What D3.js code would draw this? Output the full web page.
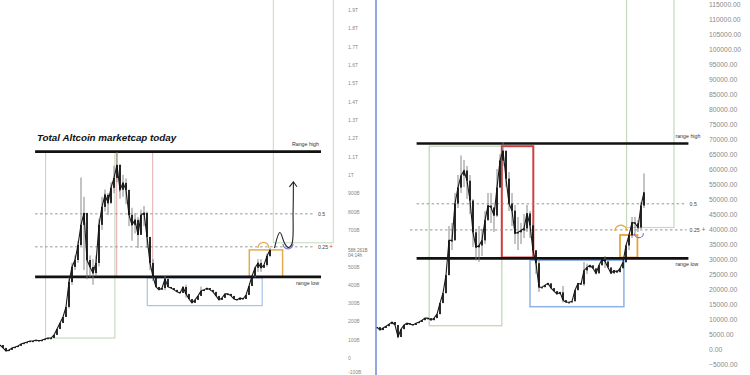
<!DOCTYPE html>
<html>
<head>
<meta charset="utf-8">
<script src="https://cdn.jsdelivr.net/npm/d3@7"></script>
<style>
  body { margin: 0; background: #fff; }
  svg { display: block; font-family: "Liberation Sans", Arial, sans-serif; }
</style>
</head>
<body>
<svg id="chart" width="750" height="375"></svg>
<script>
// ---- left panel: total altcoin market cap (billions) ----
var leftClose = [71,55,38,44,55,60,66,77,82,87,93,93,98,93,98,104,109,109,126,158,
  191,224,279,415,497,535,617,727,792,535,497,464,519,727,825,891,847,929,983,1054,
  918,956,918,781,727,754,672,781,792,661,519,443,388,372,382,432,388,382,372,361,
  355,388,350,322,301,317,339,366,372,382,372,361,339,317,328,350,350,339,322,317,
  328,322,344,393,448,492,519,492,508,557,590];
// [bar, high, low]
var leftWicks = [[23,440,270],[24,520,400],[25,560,480],[26,640,520],[27,985,610],[28,880,480],
  [29,600,430],[30,560,440],[31,540,400],[32,560,450],[33,760,500],[34,880,700],[35,920,800],
  [36,900,780],[37,960,840],[38,1050,900],[39,1125,960],[40,1060,870],[41,1000,880],[42,980,840],
  [43,900,720],[44,820,640],[45,790,680],[46,770,600],[47,810,680],[48,830,720],[49,800,600],
  [50,660,480],[51,540,420],[55,450,370],[62,400,330],[67,390,340],[85,500,440],[86,540,470],
  [87,540,470],[89,570,500],[90,600,550]];
var leftTicks = d3.range(-100, 2000, 100);
var leftRange = [443, 1127];
var leftFibs = [{label: "0.5", v: 787}, {label: "0.25", v: 607}];
var leftBoxes = [
  {i0: 15.2, i1: 38.3, v0: 1127, v1: 109, c: "#bcd5b3", w: 1},
  {i0: 38.9, i1: 50.9, v0: 1127, v1: 443, c: "#e8aaaa", w: 1},
  {i0: 49.1, i1: 87.4, v0: 437, v1: 286, c: "#a9c2e8", w: 1.2},
  {i0: 83.1, i1: 94.2, v0: 590, v1: 443, c: "#e3ad4c", w: 1.5},
  {i0: 91.1, i1: 111.1, v0: 2100, v1: 629, c: "#c4dabc", w: 1}
];
var leftArrow = [[91.5,600],[93.3,685],[95,622],[96.2,603],[97.3,622],[97.7,800],[97.8,962]];

// ---- right panel: BTC (USD) ----
var rightClose = [7300,6300,7000,7600,8300,9000,8000,4000,6600,8000,
  8600,8300,8000,8600,9000,9600,10300,10300,9600,10300,
  11600,15300,18600,24600,36200,36200,48500,53800,57800,59500,
  56100,49500,38900,33900,34500,36200,42900,47800,47200,44500,
  53800,62800,66100,56800,48500,46100,38500,38900,39500,40200,
  45200,41200,32900,28600,20600,20600,21300,21900,20300,19300,
  18300,18900,16300,15600,15600,15900,19600,21900,21600,26200,
  27200,27900,26900,25200,27900,29900,29200,27200,25200,26200,
  25600,26900,28900,34500,37900,42200,41900,40500,47800,52200];
var rightWicks = [[24,41000,30000],[25,42000,33000],[26,52000,40000],[27,58000,47000],[28,64500,52000],
  [29,63000,54000],[30,61000,50000],[31,58000,45000],[32,50000,34000],[33,40000,29500],[34,41000,29000],
  [35,40000,31000],[36,46000,35000],[37,52000,44000],[38,52000,42000],[39,47000,39000],[40,60000,44000],
  [41,65000,55000],[42,69000,61000],[43,66000,54000],[44,59000,46000],[45,52000,41000],[46,48000,35000],
  [47,44000,33000],[48,42000,35000],[49,45000,37000],[50,48000,39000],[51,46000,37000],[52,42000,32000],
  [53,33000,25000],[54,30000,19000],[62,21000,15500],[69,29000,21000],[70,28500,25000],[76,31000,27000],
  [84,38500,33000],[85,44000,37000],[86,44000,38500],[87,43000,39000],[88,49000,40000],[89,58500,47000]];
var rightTicks = d3.range(-5000, 120000, 5000);
var rightRange = [30200, 68500];
var rightFibs = [{label: "0.5", v: 48400}, {label: "0.25", v: 39700}];
var rightBoxes = [
  {i0: 17.4, i1: 41.6, v0: 67600, v1: 7760, c: "#bcd5b3", w: 1.2},
  {i0: 41.6, i1: 52.1, v0: 67600, v1: 30500, c: "#cf3f3f", w: 2},
  {i0: 51, i1: 82.3, v0: 29600, v1: 14100, c: "#8fb1e6", w: 1.5},
  {i0: 81, i1: 86.8, v0: 38000, v1: 30500, c: "#e6a43a", w: 1.8},
  {i0: 83.2, i1: 99, v0: 130000, v1: 40500, c: "#c4dabc", w: 1.2}
];

var svg = d3.select("#chart");

function panel(cfg) {
  var g = svg.append("g");
  var x = cfg.x, y = cfg.y;

  // boxes
  g.selectAll("rect.box").data(cfg.boxes).enter().append("rect")
    .attr("x", d => x(d.i0))
    .attr("y", d => y(d.v0))
    .attr("width", d => x(d.i1) - x(d.i0))
    .attr("height", d => y(d.v1) - y(d.v0))
    .attr("fill", "none")
    .attr("stroke", d => d.c)
    .attr("stroke-width", d => d.w);

  // fib dashed levels
  g.selectAll("line.fib").data(cfg.fibs).enter().append("line")
    .attr("x1", (d, k) => x(cfg.fibStart[k]))
    .attr("x2", x(cfg.fibEnd))
    .attr("y1", d => y(d.v)).attr("y2", d => y(d.v))
    .attr("stroke", "#8a8a8a")
    .attr("stroke-width", 0.9)
    .attr("stroke-dasharray", "2.5,2.5");
  g.selectAll("text.fib").data(cfg.fibs).enter().append("text")
    .attr("x", x(cfg.fibEnd) + 3)
    .attr("y", d => y(d.v) + 2)
    .attr("font-size", 5.2)
    .attr("fill", "#444")
    .text(d => d.label);
  g.append("text")
    .attr("x", x(cfg.fibEnd) + cfg.plusDx)
    .attr("y", y(cfg.fibs[1].v) + 2.5)
    .attr("font-size", 7)
    .attr("fill", "#e05050")
    .text("+");

  // range lines
  g.selectAll("line.range").data(cfg.range).enter().append("line")
    .attr("x1", x(cfg.lineStart)).attr("x2", x(cfg.lineEnd))
    .attr("y1", d => y(d)).attr("y2", d => y(d))
    .attr("stroke", "#111")
    .attr("stroke-width", 2.6);
  g.append("text")
    .attr("class", "rlabel")
    .attr("x", x(cfg.lineEnd) - 2).attr("y", y(cfg.range[1]) - 6)
    .attr("text-anchor", "end").attr("font-size", 5.3).attr("fill", "#333")
    .text(cfg.highLabel);
  g.append("text")
    .attr("class", "rlabel")
    .attr("x", x(cfg.lineEnd) - 2).attr("y", y(cfg.range[0]) + 8)
    .attr("text-anchor", "end").attr("font-size", 5.3).attr("fill", "#333")
    .text(cfg.lowLabel);

  // wicks
  g.selectAll("line.wick").data(cfg.wicks).enter().append("line")
    .attr("x1", d => x(d[0])).attr("x2", d => x(d[0]))
    .attr("y1", d => y(d[1])).attr("y2", d => y(d[2]))
    .attr("stroke", "#7c7c7c")
    .attr("stroke-width", 0.9);

  // price path through the closes
  g.append("path")
    .attr("d", d3.line().x((d, i) => x(i)).y(d => y(d))(cfg.close))
    .attr("fill", "none")
    .attr("stroke", "#1a1a1a")
    .attr("stroke-width", 1.1);

  // candle bodies (open = previous close)
  g.selectAll("rect.candle").data(cfg.close).enter().append("rect")
    .attr("x", (d, i) => x(i) - 0.9)
    .attr("width", 1.8)
    .attr("y", (d, i) => y(Math.max(d, i ? cfg.close[i - 1] : d)))
    .attr("height", (d, i) => Math.max(1.2, Math.abs(y(d) - y(i ? cfg.close[i - 1] : d))))
    .attr("fill", "#151515");

  // axis
  var axis = d3.axisRight(y)
    .tickValues(cfg.ticks)
    .tickSize(0)
    .tickPadding(0)
    .tickFormat(cfg.fmt);
  var ag = g.append("g")
    .attr("transform", "translate(" + cfg.axisX + ",0)")
    .call(axis);
  ag.select(".domain").remove();
  ag.selectAll("text")
    .attr("font-size", cfg.axisFont)
    .attr("font-family", "Liberation Sans, Arial, sans-serif")
    .attr("fill", "#8a8a8a");
  ag.selectAll(".tick").filter(d => y(d) > 372)
    .attr("transform", "translate(0,372)");
  return g;
}

// left panel
var xL = d3.scaleLinear().domain([0, 90]).range([0, 270]);
var yL = d3.scaleLinear().domain([0, 1900]).range([358, 10]);
var gL = panel({
  x: xL, y: yL, close: leftClose, wicks: leftWicks, boxes: leftBoxes,
  fibs: leftFibs, fibStart: [11.7, 11.7], fibEnd: 105, range: leftRange,
  lineStart: 11.7, lineEnd: 107, highLabel: "Range high", lowLabel: "range low",
  ticks: leftTicks.filter(t => t !== 600), axisX: 348, axisFont: 5,
  fmt: d => d === 0 ? "0" : (Math.abs(d) >= 1000 ? (d / 1000) + "T" : d + "B"),
  plusDx: 14
});
// current price tag
gL.append("text").attr("x", 348).attr("y", yL(588) + 2)
  .attr("font-size", 4.6).attr("fill", "#777").text("588.261B");
gL.append("text").attr("x", 348).attr("y", yL(588) + 6.5)
  .attr("font-size", 4.6).attr("fill", "#777").text("04:14h");

gL.append("text")
  .attr("x", 37).attr("y", 141)
  .attr("font-size", 9.8)
  .attr("font-weight", "bold")
  .attr("font-style", "italic")
  .attr("fill", "#111")
  .text("Total Altcoin marketcap today");

// hand drawn projection arrow
gL.append("path")
  .attr("d", d3.line().x(d => xL(d[0])).y(d => yL(d[1])).curve(d3.curveCatmullRom)(leftArrow))
  .attr("fill", "none").attr("stroke", "#222").attr("stroke-width", 1.1);
var tip = leftArrow[leftArrow.length - 1];
gL.append("path")
  .attr("d", d3.line()([[xL(tip[0]) - 4, yL(tip[1]) + 5], [xL(tip[0]), yL(tip[1])], [xL(tip[0]) + 3.5, yL(tip[1]) + 5]]))
  .attr("fill", "none").attr("stroke", "#222").attr("stroke-width", 1.1);

// right panel
var xR = d3.scaleLinear().domain([0, 89]).range([377, 644]);
var yR = d3.scaleLinear().domain([0, 115000]).range([349, 4]);
var gR = panel({
  x: xR, y: yR, close: rightClose, wicks: rightWicks, boxes: rightBoxes,
  fibs: rightFibs, fibStart: [13.2, 11], fibEnd: 103.2, range: rightRange,
  lineStart: 13.2, lineEnd: 103.8, highLabel: "range high", lowLabel: "range low",
  ticks: rightTicks, axisX: 709, axisFont: 6.8,
  fmt: d => d3.format(".2f")(d),
  plusDx: 15
});
gR.selectAll("text.rlabel")
  .attr("text-anchor", "start").attr("x", xR(103.8) - 13);

// small arcs marking retests
var arcs = [
  {x: xL, y: yL, i: 87.8, v: 601, r: 5.5, up: true, c: "#e3ad4c"},
  {x: xL, y: yL, i: 96, v: 623, r: 5, up: false, c: "#7777c8"},
  {x: xR, y: yR, i: 81.3, v: 39300, r: 6, up: true, c: "#e6a43a"},
  {x: xR, y: yR, i: 87.3, v: 38600, r: 4.5, up: false, c: "#7777c8"}
];
arcs.forEach(function (a) {
  var p = d3.path();
  var cx = a.x(a.i), cy = a.y(a.v);
  if (a.up) { p.moveTo(cx - a.r, cy); p.arc(cx, cy, a.r, Math.PI, 2 * Math.PI); }
  else { p.moveTo(cx + a.r, cy); p.arc(cx, cy, a.r, 0, Math.PI); }
  svg.append("path").attr("d", p.toString())
    .attr("fill", "none").attr("stroke", a.c).attr("stroke-width", 1.2);
});

// separator between the two screenshots
svg.append("line").attr("x1", 376).attr("x2", 376).attr("y1", 0).attr("y2", 375)
  .attr("stroke", "#6f86d6").attr("stroke-width", 1.5);
</script>
</body>
</html>
